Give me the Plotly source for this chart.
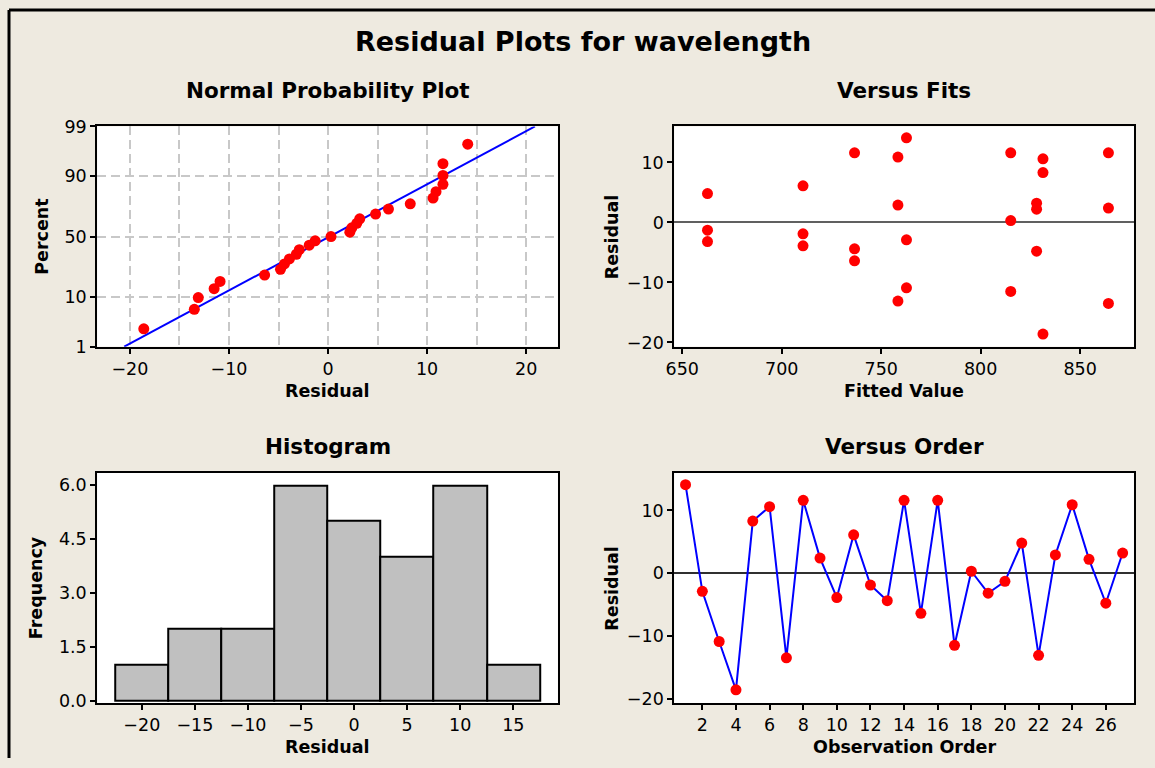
from statistics import NormalDist
import numpy as np
import plotly.graph_objects as go

order = list(range(1, 28))
residuals = [14.1, -2.9, -10.9, -18.6, 8.3, 10.6, -13.5, 11.6, 2.4,
             -3.9, 6.1, -1.9, -4.4, 11.6, -6.4, 11.6, -11.5, 0.3,
             -3.2, -1.3, 4.8, -13.1, 2.9, 10.9, 2.2, -4.8, 3.2]
fitted = [762.7, 762.7, 762.7, 831.3, 831.3, 831.3, 864.2, 864.2, 864.2,
          710.7, 710.7, 710.7, 736.6, 736.6, 736.6, 815.1, 815.1, 815.1,
          662.7, 662.7, 662.7, 758.4, 758.4, 758.4, 828.1, 828.1, 828.1]
# histogram
bin_centers = [-20, -15, -10, -5, 0, 5, 10, 15]
bin_counts = [1, 2, 2, 6, 5, 4, 6, 1]
prob_ticks = [1, 10, 50, 90, 99]

W, H = 1155, 768
BG = '#EEEAE0'
FONT = 'DejaVu Sans'
RED = '#FF0000'
BLUE = '#0000FF'

# the returned photo is shifted and slightly squeezed relative to the page;
# positions below are picture pixels, mapped back to page pixels here
SX, OX = 0.993, 7.7
SY, OY = 0.973, 9.7

nd = NormalDist()


def px(x):
    return (x - OX) / SX / W


def py(y):
    return 1 - (y - OY) / SY / H


X_L = [px(96), px(557)]
X_R = [px(673.5), px(1133.5)]
Y_T = [py(346), py(126)]
Y_B = [py(702), py(472)]


def base_axis(domain, **kw):
    ax = dict(domain=domain, showline=True, mirror=True, linecolor='black',
              linewidth=2, ticks='outside', ticklen=5, tickwidth=1.5,
              tickcolor='black', showgrid=False, zeroline=False,
              tickfont=dict(family=FONT, size=17.5, color='black'))
    ax.update(kw)
    return ax


# normal probability plot data (Benard median ranks)
n = len(residuals)
sorted_res = sorted(residuals)
ranks = [(i + 1 - 0.3) / (n + 0.4) for i in range(n)]
z_pts = [nd.inv_cdf(p) for p in ranks]
z_lo, z_hi = nd.inv_cdf(0.01), nd.inv_cdf(0.99)
mu = float(np.mean(residuals))
sd = float(np.std(residuals, ddof=1))
line_z = [z_lo, z_hi]
line_x = [mu + sd * z for z in line_z]

fig = go.Figure()

# normal probability plot
fig.add_trace(go.Scatter(x=line_x, y=line_z, mode='lines',
                         line=dict(color=BLUE, width=2),
                         xaxis='x', yaxis='y'))
fig.add_trace(go.Scatter(x=sorted_res, y=z_pts, mode='markers',
                         marker=dict(color=RED, size=11),
                         xaxis='x', yaxis='y'))

# versus fits
fig.add_trace(go.Scatter(x=fitted, y=residuals, mode='markers',
                         marker=dict(color=RED, size=11),
                         xaxis='x2', yaxis='y2'))

# histogram
fig.add_trace(go.Bar(x=bin_centers, y=bin_counts, width=5,
                     marker=dict(color='#C0C0C0',
                                 line=dict(color='black', width=2)),
                     xaxis='x3', yaxis='y3'))

# versus order
fig.add_trace(go.Scatter(x=order, y=residuals, mode='lines+markers',
                         line=dict(color=BLUE, width=2),
                         marker=dict(color=RED, size=11),
                         xaxis='x4', yaxis='y4'))

grid = dict(showgrid=True, gridcolor='#C8C8C8', gridwidth=2,
            griddash='9px,5px')

fig.update_layout(
    width=W, height=H,
    margin=dict(l=0, r=0, t=0, b=0),
    paper_bgcolor=BG, plot_bgcolor='white',
    showlegend=False,
    xaxis=base_axis(X_L, anchor='y', range=[-23.3, 23.2], tick0=0,
                    dtick=10,
                    minor=dict(dtick=5, tick0=0, ticks='', **grid),
                    **grid),
    yaxis=base_axis(Y_T, anchor='x', range=[z_lo, z_hi],
                    tickvals=[nd.inv_cdf(p / 100) for p in prob_ticks],
                    ticktext=[str(p) for p in prob_ticks], **grid),
    xaxis2=base_axis(X_R, anchor='y2', range=[646, 877], dtick=50,
                     tick0=650),
    yaxis2=base_axis(Y_T, anchor='x2', range=[-20.7, 16.0], dtick=10,
                     zeroline=True, zerolinecolor='#606060',
                     zerolinewidth=2),
    xaxis3=base_axis(X_L, anchor='y3', range=[-24.2, 19.2], dtick=5,
                     tick0=0),
    yaxis3=base_axis(Y_B, anchor='x3', range=[-0.06, 6.35], dtick=1.5,
                     tick0=0, tickformat='.1f'),
    xaxis4=base_axis(X_R, anchor='y4', range=[0.33, 27.67], dtick=2,
                     tick0=0),
    yaxis4=base_axis(Y_B, anchor='x4', range=[-20.7, 16.0], dtick=10,
                     zeroline=True, zerolinecolor='#303030',
                     zerolinewidth=2),
    bargap=0,
)

# figure frame along the top and left edges
fig.add_shape(type='line', xref='paper', yref='paper', x0=0, x1=1,
              y0=1, y1=1, line=dict(color='black', width=3))
fig.add_shape(type='line', xref='paper', yref='paper', x0=0, x1=0,
              y0=0, y1=1, line=dict(color='black', width=3))


def label(text, x, y, size, angle=0):
    fig.add_annotation(text='<b>%s</b>' % text, x=x, y=y, xref='paper',
                       yref='paper', showarrow=False, textangle=angle,
                       xanchor='center', yanchor='middle',
                       font=dict(family=FONT, size=size, color='black'))


label('Residual Plots for wavelength', px(582), py(41), 27)
label('Normal Probability Plot', px(326.5), py(90), 21.5)
label('Versus Fits', px(903.5), py(90), 21.5)
label('Histogram', px(326.5), py(446), 21.5)
label('Versus Order', px(903.5), py(446), 21.5)
label('Residual', px(326.5), py(390), 17.5)
label('Fitted Value', px(903.5), py(390), 17.5)
label('Residual', px(326.5), py(746), 17.5)
label('Observation Order', px(903.5), py(746), 17.5)
label('Percent', px(40), py(236), 17.5, -90)
label('Residual', px(611), py(236), 17.5, -90)
label('Frequency', px(35), py(587), 17.5, -90)
label('Residual', px(611), py(587), 17.5, -90)

# pin the figure to the top-left corner of the page
pin = ("var d=document.getElementById('{plot_id}');"
       "d.style.position='fixed';d.style.left='0px';d.style.top='0px';"
       "document.body.style.margin='0';"
       "document.documentElement.style.overflow='hidden';")
fig.write_html('out.html', config={'displayModeBar': False},
               post_script=pin)
